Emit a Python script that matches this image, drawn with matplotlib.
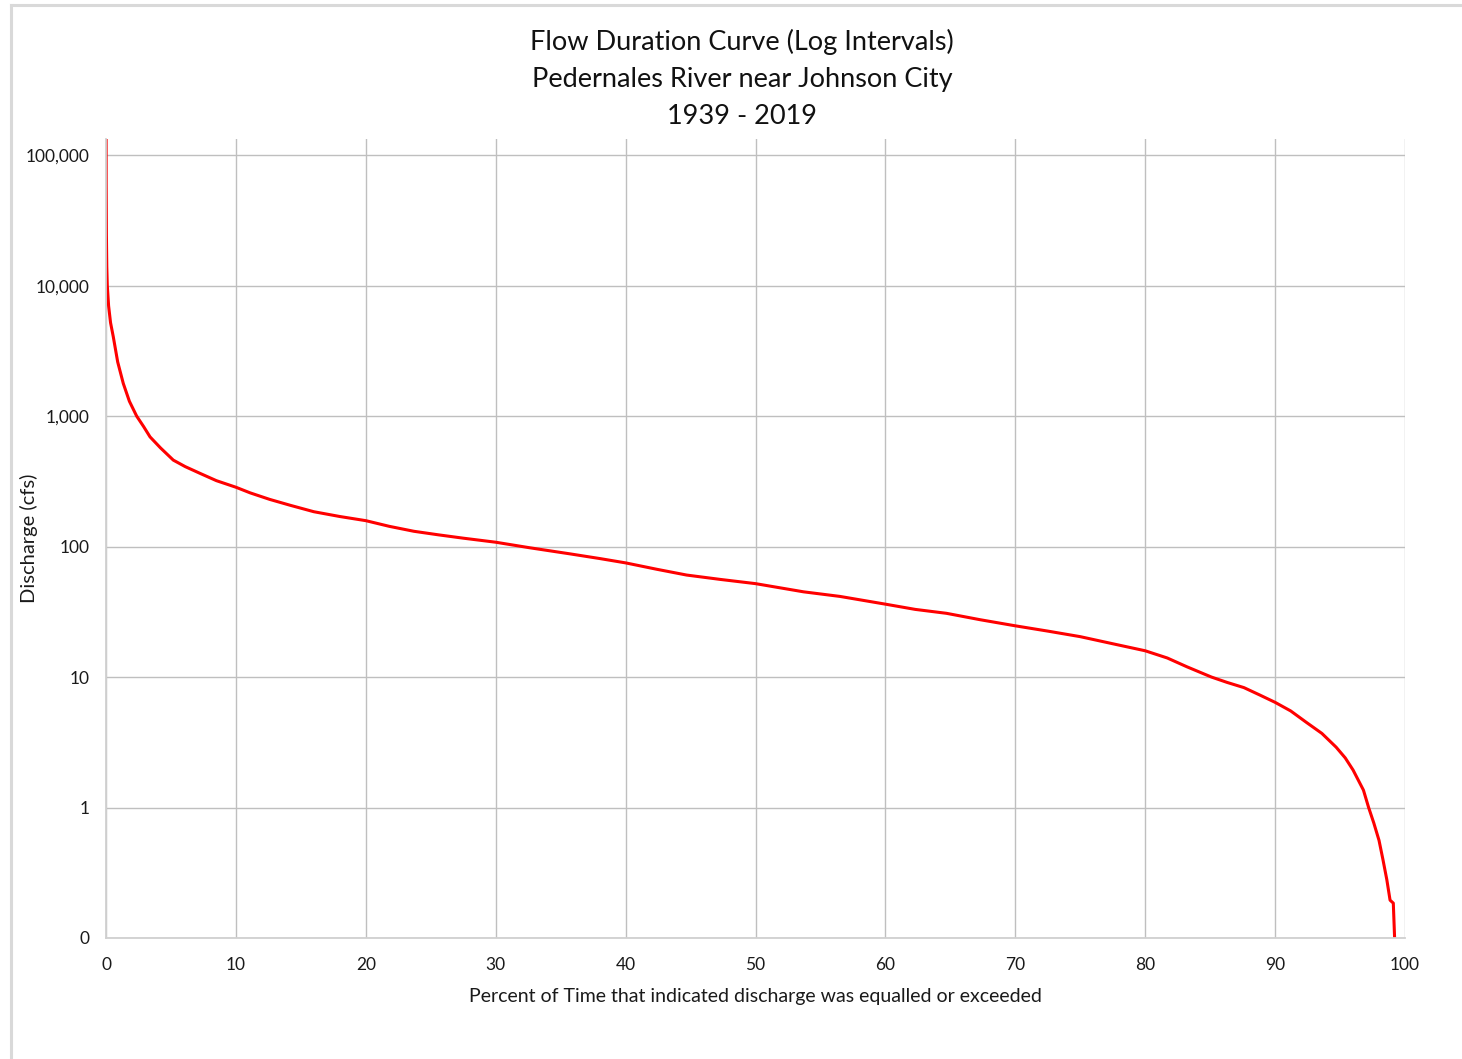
import matplotlib.pyplot as plt
from matplotlib.lines import Line2D

# Data
pct_exceeded = [0.0, 0.01, 0.03, 0.06, 0.1, 0.2, 0.35, 0.56, 0.9, 1.33, 1.8, 2.36, 2.9, 3.39,
                4.2, 5.18, 6.1, 7.24, 8.5, 10, 11.1, 12.6, 14.2, 16, 18, 20, 21.8, 23.7, 25.6,
                27.5, 30, 32.6, 35.7, 38, 40, 42.4, 44.7, 47.3, 50, 53.7, 56.5, 60, 62.3, 64.7,
                67.3, 70, 72.5, 75, 77.5, 80, 81.7, 83.2, 85.1, 86.3, 87.6, 88.8, 90, 91.2, 92.4,
                93.6, 94.7, 95.4, 96.0, 96.8, 97.2, 97.6, 98.0, 98.3, 98.6, 98.85, 99.1, 99.2]
discharge = [441000, 60000, 25000, 14000, 10000, 7000, 5200, 4060, 2600, 1780, 1300, 1000, 830, 693,
             570, 460, 410, 364, 320, 285, 258, 230, 207, 185, 170, 158, 143, 131, 123,
             116, 108, 98, 88, 81, 75, 67, 60.5, 56, 52, 45, 41.5, 36.2, 33, 30.8,
             27.5, 24.7, 22.5, 20.4, 18, 15.9, 14, 12, 10, 9.1, 8.3, 7.3, 6.4, 5.5, 4.5,
             3.7, 2.9, 2.4, 1.94, 1.36, 1.0, 0.76, 0.56, 0.40, 0.28, 0.195, 0.185, 0.1]

x_ticks = [0, 10, 20, 30, 40, 50, 60, 70, 80, 90, 100]
y_ticks = [0.1, 1, 10, 100, 1000, 10000, 100000]
y_tick_labels = ['0', '1', '10', '100', '1,000', '10,000', '100,000']

plt.rcParams['font.family'] = ['Lato', 'DejaVu Sans']

fig = plt.figure(figsize=(14.62, 10.59), dpi=100)
ax = fig.add_axes([106 / 1462, 121 / 1059, 1299 / 1462, 799 / 1059])

ax.plot(pct_exceeded, discharge, color='#ff0000', linewidth=2.2, solid_joinstyle='round')

ax.set_yscale('log')
ax.set_xlim(0, 100)
ax.set_ylim(0.1, 1.33e5)
ax.set_xticks(x_ticks)
ax.set_yticks(y_ticks)
ax.set_yticklabels(y_tick_labels)
ax.minorticks_off()
ax.tick_params(length=0, labelsize=12.5, colors='#1a1a1a', pad=12)
ax.tick_params(axis='x', pad=14)

ax.grid(True, color='#bfbfbf', linewidth=1.0)
ax.set_axisbelow(True)
for side in ['top', 'right']:
    ax.spines[side].set_visible(False)
for side in ['left', 'bottom']:
    ax.spines[side].set_color('#d0d0d0')
    ax.spines[side].set_linewidth(1.3)

ax.set_xlabel('Percent of Time that indicated discharge was equalled or exceeded', fontsize=14, color='#1a1a1a')
ax.set_ylabel('Discharge (cfs)', fontsize=14.5, color='#1a1a1a')
ax.xaxis.set_label_coords(0.5, -0.0625)
ax.yaxis.set_label_coords(-0.052, 0.5)

fig.text(742 / 1462, 1 - 79 / 1059,
         'Flow Duration Curve (Log Intervals)\nPedernales River near Johnson City\n1939 - 2019',
         ha='center', va='center', fontsize=19.5, linespacing=1.6, color='#111111')

# light border of the chart frame (left and top edges visible)
fig.add_artist(Line2D([11 / 1462, 11 / 1462], [0, 1 - 5 / 1059], color='#d9d9d9', linewidth=2.2))
fig.add_artist(Line2D([11 / 1462, 1], [1 - 5 / 1059, 1 - 5 / 1059], color='#d9d9d9', linewidth=2.2))

fig.savefig('out.png', dpi=100)
